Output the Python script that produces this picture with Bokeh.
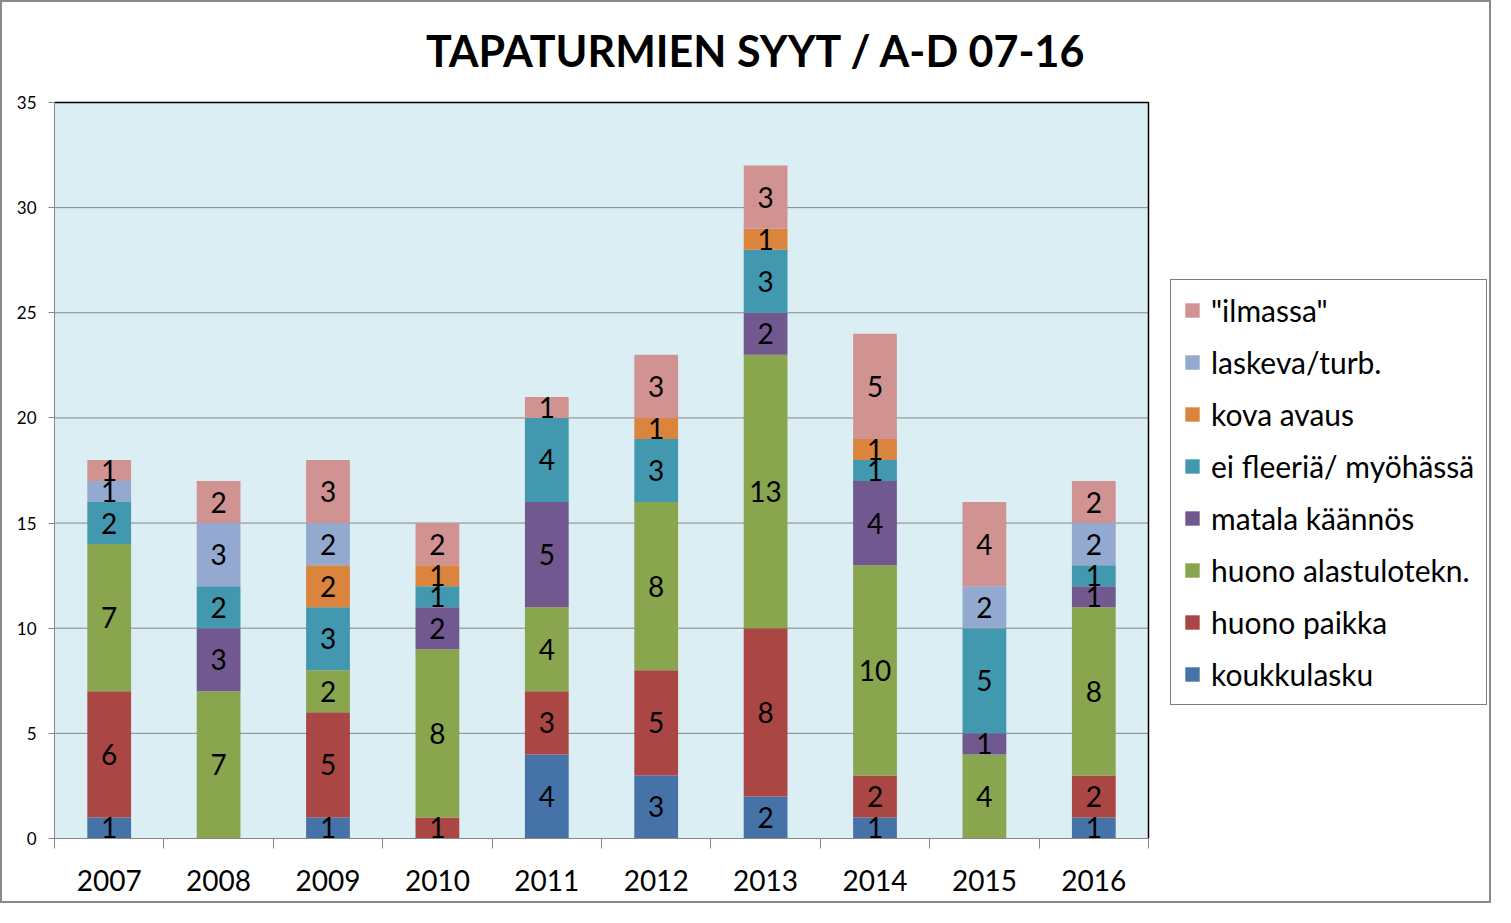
from bokeh.plotting import figure
from bokeh.models import Range1d, FixedTicker, Legend, LegendItem, ColumnDataSource, Label
from bokeh.core.properties import value
from bokeh.embed import file_html
from bokeh.resources import INLINE

title_text = "TAPATURMIEN SYYT / A-D 07-16"
years = ["2007", "2008", "2009", "2010", "2011", "2012", "2013", "2014", "2015", "2016"]

koukkulasku = [1, 0, 1, 0, 4, 3, 2, 1, 0, 1]
huono_paikka = [6, 0, 5, 1, 3, 5, 8, 2, 0, 2]
huono_alastulo = [7, 7, 2, 8, 4, 8, 13, 10, 4, 8]
matala_kaannos = [0, 3, 0, 2, 5, 0, 2, 4, 1, 1]
ei_fleeria = [2, 2, 3, 1, 4, 3, 3, 1, 5, 1]
kova_avaus = [0, 0, 2, 1, 0, 1, 1, 1, 0, 0]
laskeva = [1, 3, 2, 0, 0, 0, 0, 0, 2, 2]
ilmassa = [1, 2, 3, 2, 1, 3, 3, 5, 4, 2]

series_names = ["koukkulasku", "huono paikka", "huono alastulotekn.", "matala käännös",
                "ei fleeriä/ myöhässä", "kova avaus", "laskeva/turb.", "\"ilmassa\""]
series_values = [koukkulasku, huono_paikka, huono_alastulo, matala_kaannos,
                 ei_fleeria, kova_avaus, laskeva, ilmassa]
colors = ["#4572A7", "#AA4643", "#89A54E", "#71588F", "#4198AF", "#DB843D", "#93A9CF", "#D19392"]
y_ticks = [0, 5, 10, 15, 20, 25, 30, 35]

FONT = "Lato"
GRID = "#868686"

# layout constants (pixels)
TOTAL_W, TOTAL_H = 1491, 903
LEFT, PLOT_W = 52, 1094
PLOT_TOP, PLOT_H = 100, 736
BOTTOM = TOTAL_H - PLOT_TOP - PLOT_H

n = len(years)
xs = list(range(1, n + 1))
x_lo, x_hi = xs[0] - 0.5, xs[-1] + 0.5
y_lo, y_hi = y_ticks[0], y_ticks[-1]
x_end = x_lo + (TOTAL_W - LEFT) * (x_hi - x_lo) / PLOT_W
y_end = y_hi * (PLOT_TOP + PLOT_H) / PLOT_H

keys = ["s%d" % i for i in range(len(series_names))]
data = {"x": xs}
for k, v in zip(keys, series_values):
    data[k] = v
src = ColumnDataSource(data)

p = figure(width=TOTAL_W, height=TOTAL_H, output_backend="svg", toolbar_location=None,
           x_range=Range1d(x_lo, x_end), y_range=Range1d(y_lo, y_end),
           min_border_left=LEFT, min_border_right=0, min_border_top=0, min_border_bottom=BOTTOM)
p.styles = {"border": "2px solid #8a8a8a"}
p.background_fill_color = "white"
p.border_fill_color = "white"
p.outline_line_color = None
p.xgrid.grid_line_color = None
p.ygrid.grid_line_color = None

# plot area background
p.quad(left=[x_lo], right=[x_hi], bottom=[y_lo], top=[y_hi], fill_color="#DBEEF3", line_color=None)
# horizontal gridlines
p.segment(x0=[x_lo] * len(y_ticks), x1=[x_hi] * len(y_ticks), y0=y_ticks, y1=y_ticks,
          line_color=GRID, line_width=1)

renderers = p.vbar_stack(keys, x="x", width=0.4, color=colors, source=src, line_color=None)

# plot area border (top and right)
p.line(x=[x_lo, x_hi, x_hi], y=[y_hi, y_hi, y_lo], line_color="black", line_width=1.5)

# segment labels
lx, ly, lt = [], [], []
for i in range(n):
    base = 0
    for vals in series_values:
        v = vals[i]
        if v > 0:
            lx.append(xs[i])
            ly.append(base + v / 2)
            lt.append(str(v))
        base += v
p.text(x=lx, y=ly, text=lt, text_align="center", text_baseline="middle",
       text_font=value(FONT), text_font_size="28px", text_color="black")

# title
p.add_layout(Label(x=702, y=788, x_units="screen", y_units="screen", text=title_text,
                   text_align="center", text_baseline="middle", text_font=FONT,
                   text_font_style="bold", text_font_size="43px", text_color="black"))

# axes
yax = p.yaxis[0]
yax.ticker = FixedTicker(ticks=y_ticks)
yax.bounds = (y_lo, y_hi)
yax.axis_line_color = GRID
yax.major_tick_line_color = GRID
yax.major_tick_out = 6
yax.major_tick_in = 0
yax.minor_tick_line_color = None
yax.major_label_text_font = FONT
yax.major_label_text_font_size = "17px"
yax.major_label_text_color = "black"
yax.major_label_standoff = 12

xax = p.xaxis[0]
minor = [x - 0.5 for x in xs] + [xs[-1] + 0.5]
xax.ticker = FixedTicker(ticks=xs, minor_ticks=minor)
xax.bounds = (x_lo, x_hi)
xax.major_label_overrides = {x: y for x, y in zip(xs, years)}
xax.axis_line_color = GRID
xax.major_tick_line_color = None
xax.major_tick_out = 10
xax.major_tick_in = 0
xax.minor_tick_line_color = GRID
xax.minor_tick_out = 10
xax.minor_tick_in = 0
xax.major_label_text_font = FONT
xax.major_label_text_font_size = "28px"
xax.major_label_text_color = "black"
xax.major_label_standoff = 21

items = [LegendItem(label=nm, renderers=[r]) for nm, r in zip(series_names, renderers)]
items.reverse()
legend = Legend(items=items, location=(PLOT_W + 22, 133), orientation="vertical",
                border_line_color="black", border_line_width=1,
                background_fill_color="white", background_fill_alpha=1,
                padding=12, spacing=16, margin=0,
                label_height=28, glyph_height=18, glyph_width=18, label_standoff=10,
                label_text_font=FONT, label_text_font_size="30px", label_text_color="black")
p.add_layout(legend, "center")

open("out.html", "w").write(file_html(p, INLINE))
